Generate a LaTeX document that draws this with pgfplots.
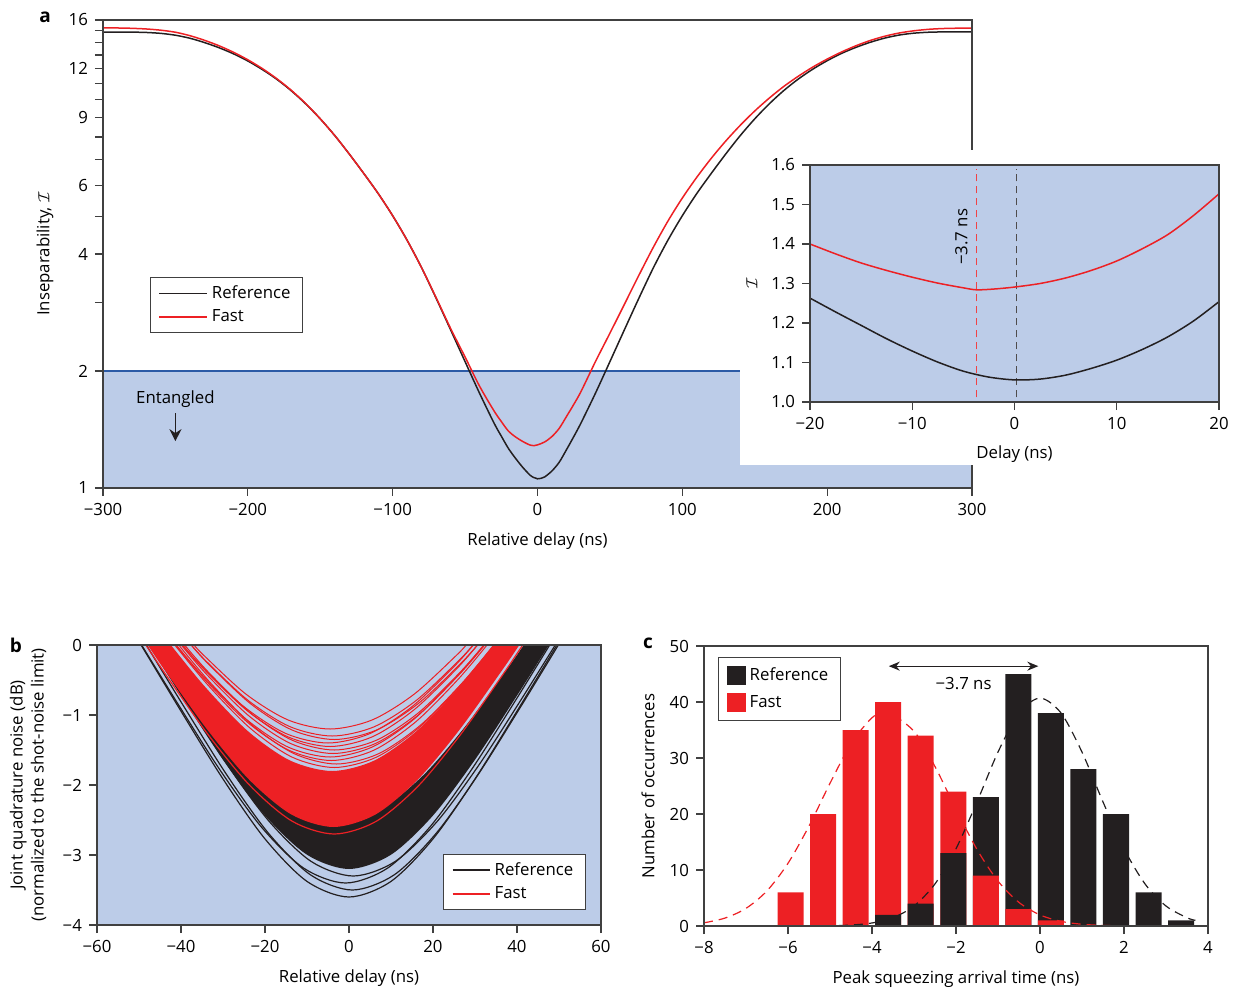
\documentclass[border=0pt]{standalone}
\usepackage{fontspec}
\setmainfont{Open Sans}
\usepackage{pgfplots}
\pgfplotsset{compat=1.18}
\usetikzlibrary{arrows.meta}
\definecolor{cred}{RGB}{237,32,36}
\definecolor{cblack}{RGB}{35,31,32}
\definecolor{cblue}{RGB}{188,204,232}
\definecolor{cline}{RGB}{43,90,166}
\definecolor{caxis}{RGB}{64,64,64}
\newcommand\fs{\fontsize{8.4}{10.5}\selectfont}
\pgfplotsset{
  myaxis/.style={
    scale only axis, anchor=south west, axis on top,
    font=\fs,
    axis line style={caxis, line width=0.8pt},
    tick style={caxis, line width=0.6pt},
    tick align=outside, tick pos=left,
    major tick length=4pt, minor tick length=4pt,
    tick label style={font=\fs},
    label style={font=\fs},
    /pgf/number format/assume math mode=true,
  },
}
\begin{document}
\begin{tikzpicture}
\useasboundingbox (0,0) rectangle (618pt,496pt);

% ---------------- panel a -----------------
\begin{axis}[myaxis, at={(51.5pt,252pt)}, width=434.5pt, height=234pt,
  xmin=-300, xmax=300, ymin=1, ymax=16, ymode=log,
  xtick={-300,-200,-100,0,100,200,300},
  xticklabels={−300,−200,−100,0,100,200,300},
  ytick={1,2,4,6,9,12,16}, yticklabels={1,2,4,6,9,12,16},
  minor ytick={3,5,7,8,10,11,13,14,15},
  xlabel={Relative delay (ns)}, ylabel={Inseparability, $\mathcal{I}$},
  xlabel style={at={(axis description cs:0.5,-0.113)}, anchor=center},
  ylabel style={at={(axis description cs:-0.0667,0.5)}, anchor=center},
  legend style={at={(axis description cs:0.054,0.451)}, anchor=north west,
    draw=caxis, line width=0.6pt, font=\fs, inner xsep=4pt, inner ysep=2pt},
  legend cell align=left,
  legend image code/.code={\draw[#1, line width=0.7pt] (0pt,0pt) -- (24pt,0pt);},
]
\addplot[draw=none, fill=cblue, forget plot] coordinates {(-300,1) (-300,2) (300,2) (300,1)} -- cycle;
\addplot[cline, line width=1pt, forget plot] coordinates {(-300,2) (300,2)};
\addplot[cblack, line width=0.75pt, smooth] coordinates {
(-300,14.90) (-290,14.90) (-280,14.89) (-270,14.86) (-260,14.78) (-250,14.62)
(-240,14.36) (-230,14.00) (-220,13.58) (-210,13.10) (-200,12.55) (-190,11.93)
(-180,11.26) (-170,10.52) (-160,9.73) (-150,8.91) (-140,8.07) (-130,7.236)
(-120,6.450) (-110,5.724) (-100,5.018) (-90,4.338) (-80,3.686) (-70,3.078) (-60,2.553)
(-50,2.114) (-40,1.753) (-30,1.469) (-25,1.360) (-20,1.263) (-15,1.190) (-10,1.128)
(-5,1.078) (-2.5,1.064) (0,1.056) (2.5,1.059) (5,1.068) (10,1.1065) (15,1.165) (20,1.2545) (25,1.355)
(30,1.469) (40,1.753) (50,2.114) (60,2.553) (70,3.078) (80,3.686) (90,4.338)
(100,5.018) (110,5.724) (120,6.450) (130,7.236) (140,8.067) (150,8.907) (160,9.734)
(170,10.53) (180,11.27) (190,11.95) (200,12.57) (210,13.13) (220,13.61) (230,14.03)
(240,14.38) (250,14.64) (260,14.80) (270,14.88) (280,14.91) (290,14.92) (300,14.92)};
\addlegendentry{Reference}
\addplot[cred, line width=0.75pt, smooth] coordinates {
(-300,15.27) (-290,15.26) (-280,15.23) (-270,15.17) (-260,15.06) (-250,14.88)
(-240,14.58) (-230,14.19) (-220,13.74) (-210,13.22) (-200,12.64) (-190,12.00)
(-180,11.30) (-170,10.55) (-160,9.75) (-150,8.91) (-140,8.07) (-130,7.236)
(-120,6.450) (-110,5.724) (-100,5.018) (-90,4.338) (-80,3.686) (-70,3.089) (-60,2.574)
(-50,2.173) (-40,1.828) (-30,1.579) (-25,1.483) (-20,1.400) (-15,1.352) (-10,1.316)
(-5,1.289) (-2.5,1.285) (0,1.291) (5,1.314) (10,1.357) (15,1.424) (20,1.527)
(25,1.640) (30,1.770) (40,2.114) (50,2.502) (60,2.969) (70,3.526) (80,4.164)
(90,4.857) (100,5.572) (110,6.303) (120,7.052) (130,7.814) (140,8.574) (150,9.332)
(160,10.07) (170,10.79) (180,11.46) (190,12.10) (200,12.69) (210,13.24) (220,13.74)
(230,14.18) (240,14.54) (250,14.82) (260,15.01) (270,15.14) (280,15.21) (290,15.24) (300,15.25)};
\addlegendentry{Fast}
\node[font=\fs] at (axis cs:-250,1.69) {Entangled};
\draw[-{Stealth[length=6pt,width=6pt,inset=2pt]}, line width=0.8pt, cblack] (axis cs:-250,1.555) -- (axis cs:-250,1.32);
\end{axis}

\fill[white] (370pt,263.5pt) rectangle (618pt,421pt);

% ---------------- inset -----------------
\begin{axis}[myaxis, at={(405pt,295pt)}, width=204.5pt, height=118.5pt,
  axis background/.style={fill=cblue},
  xmin=-20, xmax=20, ymin=1, ymax=1.6,
  xtick={-20,-10,0,10,20}, xticklabels={−20,−10,0,10,20},
  ytick={1,1.1,1.2,1.3,1.4,1.5,1.6}, yticklabels={1.0,1.1,1.2,1.3,1.4,1.5,1.6},
  xlabel={Delay (ns)}, ylabel={$\mathcal{I}$},
  xlabel style={at={(axis description cs:0.5,-0.219)}, anchor=center},
  ylabel style={at={(axis description cs:-0.142,0.5)}, anchor=center},
]
\addplot[cred!85!white, line width=0.7pt, dash pattern=on 3.5pt off 2.5pt] coordinates {(-3.7,1.012) (-3.7,1.59)};
\addplot[cblack!80, line width=0.7pt, dash pattern=on 3.5pt off 2.5pt] coordinates {(0.2,1.012) (0.2,1.59)};
\addplot[cblack, line width=0.75pt, smooth] coordinates {
(-20,1.263) (-17.5,1.228) (-15,1.194) (-12.5,1.160) (-10,1.129) (-7.5,1.101)
(-5,1.078) (-2.5,1.063) (0,1.056) (2.5,1.058) (5,1.068) (7.5,1.085) (10,1.106)
(12.5,1.133) (15,1.165) (17.5,1.205) (20,1.254)};
\addplot[cred, line width=0.75pt, smooth] coordinates {
(-20,1.400) (-17.5,1.375) (-15,1.352) (-12.5,1.333) (-10,1.316) (-7.5,1.301)
(-5,1.289) (-3.7,1.284) (-2,1.286) (0,1.291) (2.5,1.300) (5,1.314) (7.5,1.333)
(10,1.357) (12.5,1.388) (15,1.424) (17.5,1.472) (20,1.527)};
\node[rotate=90, font=\fs] at (axis cs:-5.2,1.418) {−3.7 ns};
\end{axis}

% ---------------- panel b -----------------
\begin{axis}[myaxis, at={(48.5pt,33.5pt)}, width=252pt, height=140pt,
  axis background/.style={fill=cblue},
  xmin=-60, xmax=60, ymin=-4, ymax=0,
  xtick={-60,-40,-20,0,20,40,60}, xticklabels={−60,−40,−20,0,20,40,60},
  ytick={-4,-3,-2,-1,0}, yticklabels={−4,−3,−2,−1,0},
  xlabel={Relative delay (ns)},
  ylabel={Joint quadrature noise (dB)\\(normalized to the shot-noise limit)},
  xlabel style={at={(axis description cs:0.5,-0.189)}, anchor=center},
  ylabel style={at={(axis description cs:-0.137,0.5)}, anchor=center, align=center},
  legend style={at={(axis description cs:0.970,0.054)}, anchor=south east,
    draw=caxis, line width=0.6pt, font=\fs, inner xsep=4pt, inner ysep=2pt},
  legend cell align=left,
  legend image code/.code={\draw[#1, line width=1pt, sharp plot] (0pt,0pt) -- (18.5pt,0pt);},
]
% black dense band (region between two curves of the family)
\addplot[fill=cblack, draw=none, smooth, forget plot] coordinates {
(-52.9,0.5) (-47.61,0) (-40,-0.723) (-30,-1.639) (-20,-2.436) (-10,-2.996) (0,-3.2) (10,-2.996) (20,-2.436) (30,-1.639) (40,-0.723) (47.61,0) (52.9,0.5)
(47.3,0.5) (41.62,0) (38,-0.314) (28,-1.139) (18,-1.842) (8,-2.327) (-2,-2.5) (-12,-2.327) (-22,-1.842) (-32,-1.139) (-42,-0.314) (-45.62,0) (-51.3,0.5)} -- cycle;
\addplot[draw=cblack, line width=0.6pt, smooth] coordinates {
(-49.5,0) (-40,-0.945) (-30,-1.914) (-20,-2.770) (-10,-3.377) (0,-3.6) (10,-3.377) (20,-2.770) (30,-1.914) (40,-0.945) (49.5,0)};
\addlegendentry{Reference}
\addplot[cblack, line width=0.6pt, smooth, forget plot] coordinates {
(-48.25,0) (-39.2,-0.890) (-29.2,-1.846) (-19.2,-2.687) (-9.2,-3.282) (0.8,-3.5) (10.8,-3.282) (20.8,-2.687) (30.8,-1.846) (40.8,-0.890) (49.85,0)};
\addplot[cblack, line width=0.6pt, smooth, forget plot] coordinates {
(-49.38,0) (-40.8,-0.835) (-30.8,-1.778) (-20.8,-2.604) (-10.8,-3.187) (-0.8,-3.4) (9.2,-3.187) (19.2,-2.604) (29.2,-1.778) (39.2,-0.835) (47.78,0)};
\addplot[cblack, line width=0.6pt, smooth, forget plot] coordinates {
(-47.11,0) (-39,-0.779) (-29,-1.709) (-19,-2.520) (-9,-3.092) (1,-3.3) (11,-3.092) (21,-2.520) (31,-1.709) (41,-0.779) (49.11,0)};
% red dense band
\addplot[fill=cred, draw=none, smooth, forget plot] coordinates {
(-53.6,0.5) (-47.96,0) (-43.7,-0.374) (-33.7,-1.212) (-23.7,-1.928) (-13.7,-2.422) (-3.7,-2.6) (6.3,-2.422) (16.3,-1.928) (26.3,-1.212) (36.3,-0.374) (40.56,0) (46.2,0.5)
(40.8,0.5) (34.41,0) (26,-0.616) (16,-1.234) (6,-1.651) (-4,-1.8) (-14,-1.651) (-24,-1.234) (-34,-0.616) (-42.41,0) (-48.8,0.5)} -- cycle;
\addplot[draw=cred, line width=0.6pt, smooth] coordinates {
(-48.37,0) (-43.5,-0.434) (-33.5,-1.284) (-23.5,-2.013) (-13.5,-2.518) (-3.5,-2.7) (6.5,-2.518) (16.5,-2.013) (26.5,-1.284) (36.5,-0.434) (41.37,0)};
\addlegendentry{Fast}
\addplot[cred, line width=0.5pt, smooth, forget plot] coordinates {
(-41.48,0) (-33.5,-0.578) (-23.5,-1.190) (-13.5,-1.603) (-3.5,-1.75) (6.5,-1.603) (16.5,-1.190) (26.5,-0.578) (34.48,0)};
\addplot[cred, line width=0.5pt, smooth, forget plot] coordinates {
(-40.53,0) (-33,-0.540) (-23,-1.146) (-13,-1.554) (-3,-1.7) (7,-1.554) (17,-1.146) (27,-0.540) (34.53,0)};
\addplot[cred, line width=0.5pt, smooth, forget plot] coordinates {
(-41.27,0) (-34.2,-0.502) (-24.2,-1.102) (-14.2,-1.506) (-4.2,-1.65) (5.8,-1.506) (15.8,-1.102) (25.8,-0.502) (32.87,0)};
\addplot[cred, line width=0.5pt, smooth, forget plot] coordinates {
(-41.11,0) (-34.5,-0.463) (-24.5,-1.058) (-14.5,-1.458) (-4.5,-1.6) (5.5,-1.458) (15.5,-1.058) (25.5,-0.463) (32.11,0)};
\addplot[cred, line width=0.5pt, smooth, forget plot] coordinates {
(-39.93,0) (-33.8,-0.425) (-23.8,-1.014) (-13.8,-1.410) (-3.8,-1.55) (6.2,-1.410) (16.2,-1.014) (26.2,-0.425) (32.33,0)};
\addplot[cred, line width=0.5pt, smooth, forget plot] coordinates {
(-39.14,0) (-33.5,-0.386) (-23.5,-0.970) (-13.5,-1.361) (-3.5,-1.5) (6.5,-1.361) (16.5,-0.970) (26.5,-0.386) (32.14,0)};
\addplot[cred, line width=0.5pt, smooth, forget plot] coordinates {
(-39.63,0) (-34.5,-0.348) (-24.5,-0.925) (-14.5,-1.313) (-4.5,-1.45) (5.5,-1.313) (15.5,-0.925) (25.5,-0.348) (30.63,0)};
\addplot[cred, line width=0.5pt, smooth, forget plot] coordinates {
(-39.62,0) (-35,-0.309) (-25,-0.881) (-15,-1.265) (-5,-1.4) (5,-1.265) (15,-0.881) (25,-0.309) (29.62,0)};
\addplot[cred, line width=0.5pt, smooth, forget plot] coordinates {
(-37.58,0) (-33.5,-0.270) (-23.5,-0.836) (-13.5,-1.216) (-3.5,-1.35) (6.5,-1.216) (16.5,-0.836) (26.5,-0.270) (30.58,0)};
\addplot[cred, line width=0.5pt, smooth, forget plot] coordinates {
(-37.54,0) (-34,-0.231) (-24,-0.792) (-14,-1.168) (-4,-1.3) (6,-1.168) (16,-0.792) (26,-0.231) (29.54,0)};
\addplot[cred, line width=0.5pt, smooth, forget plot] coordinates {
(-36.9,0) (-34.5,-0.152) (-24.5,-0.703) (-14.5,-1.071) (-4.5,-1.2) (5.5,-1.071) (15.5,-0.703) (25.5,-0.152) (27.9,0)};
\end{axis}

% ---------------- panel c -----------------
\begin{axis}[myaxis, at={(352pt,33pt)}, width=252pt, height=140pt,
  xmin=-8, xmax=4, ymin=0, ymax=50,
  xtick={-8,-6,-4,-2,0,2,4}, xticklabels={−8,−6,−4,−2,0,2,4},
  ytick={0,10,20,30,40,50}, yticklabels={0,10,20,30,40,50},
  xlabel={Peak squeezing arrival time (ns)}, ylabel={Number of occurrences},
  xlabel style={at={(axis description cs:0.5,-0.189)}, anchor=center},
  ylabel style={at={(axis description cs:-0.111,0.5)}, anchor=center},
  legend style={at={(axis description cs:0.028,0.961)}, anchor=north west,
    draw=caxis, line width=0.6pt, font=\fs, inner xsep=4pt, inner ysep=3pt, row sep=2pt},
  legend cell align=left,
  legend image code/.code={\fill[#1] (0pt,-4.75pt) rectangle (9.5pt,4.75pt);},
]
\addlegendimage{fill=cblack, draw=none}\addlegendentry{Reference}
\addlegendimage{fill=cred, draw=none}\addlegendentry{Fast}
\addplot[ybar, bar width=0.62, bar shift=0pt, fill=cred, draw=none, forget plot] coordinates {
(-5.94,6) (-5.165,20) (-4.39,35) (-3.615,40) (-2.84,34) (-2.065,24)};
\addplot[ybar, bar width=0.62, bar shift=0pt, fill=cblack, draw=none, forget plot] coordinates {
(-3.615,2) (-2.84,4) (-2.065,13) (-1.29,23) (-0.515,45) (0.26,38) (1.035,28) (1.81,20) (2.585,6) (3.36,1)};
\addplot[ybar, bar width=0.62, bar shift=0pt, fill=cred, draw=none, forget plot] coordinates {
(-1.29,9) (-0.515,3) (0.26,1)};
\addplot[cblack, line width=0.6pt, smooth, dash pattern=on 4.5pt off 3pt, forget plot] coordinates {
(-8,0) (-6,0) (-5,0.05) (-4.5,0.17) (-4,0.54) (-3.5,1.48) (-3,3.57) (-2.5,7.52) (-2,13.8)
(-1.5,22.16) (-1,31.06) (-0.5,38.04) (0,40.7) (0.5,38.04) (1,31.06) (1.5,22.16)
(2,13.8) (2.5,7.52) (3,3.57) (3.5,1.48) (3.7,1.01)};
\addplot[cred, line width=0.6pt, smooth, dash pattern=on 4.5pt off 3pt, forget plot] coordinates {
(-8,0.57) (-7.5,1.42) (-7,3.15) (-6.5,6.28) (-6,11.20) (-5.5,17.85) (-5,25.48)
(-4.5,32.54) (-4,37.18) (-3.65,38.2) (-3,34.78) (-2.5,28.47) (-2,20.86) (-1.5,13.67)
(-1,8.02) (-0.5,4.21) (0,1.98) (0.5,0.83) (1,0.31) (1.5,0.11) (2,0.03) (2.5,0.01) (3,0) (3.7,0)};
\draw[{Stealth[length=5.5pt,width=4.5pt]}-{Stealth[length=5.5pt,width=4.5pt]}, line width=0.6pt, cblack]
  (axis cs:-3.6,46.4) -- (axis cs:-0.04,46.4);
\node[font=\fs] at (axis cs:-1.82,43.3) {−3.7 ns};
\end{axis}

\node[font=\bfseries\fontsize{9.5}{10}\selectfont] at (22.5pt,487.5pt) {a};
\node[font=\bfseries\fontsize{9.5}{10}\selectfont] at (8pt,173.5pt) {b};
\node[font=\bfseries\fontsize{9.5}{10}\selectfont] at (324pt,174.5pt) {c};
\end{tikzpicture}
\end{document}
